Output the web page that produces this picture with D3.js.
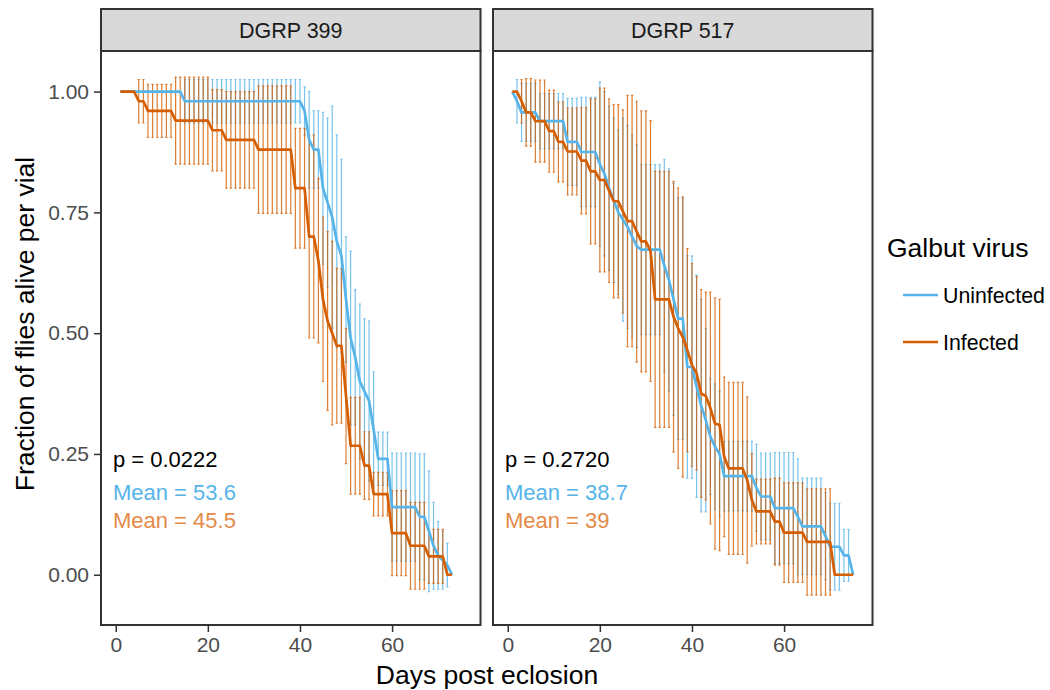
<!DOCTYPE html>
<html><head><meta charset="utf-8">
<script src="https://cdn.jsdelivr.net/npm/d3@7"></script>
<style>
body{margin:0;background:#fff;}
text{font-family:"Liberation Sans",Arial,Helvetica,sans-serif;}
</style>
</head><body>
<svg id="chart" width="1050" height="690"></svg>
<script>
// ---------------- data ----------------
const panelNames = ["DGRP 399", "DGRP 517"];
const groupNames = ["Uninfected", "Infected"];
const groupColors = ["#56B4E9", "#D55E00"];
const meanTextColors = ["#56B4E9", "#E38A4A"];
const xTicks = [0, 20, 40, 60];
const yTicks = [0, 0.25, 0.5, 0.75, 1];
const yTickLabels = ["0.00", "0.25", "0.50", "0.75", "1.00"];

const days399 = [1,2,3,4,5,6,7,8,9,10,11,12,13,14,15,16,17,18,19,20,21,22,23,24,25,26,27,28,29,30,
  31,32,33,34,35,36,37,38,39,40,41,42,43,44,45,46,47,48,49,50,51,52,53,54,55,56,57,58,59,60,
  61,62,63,64,65,66,67,68,69,70,71,72,73];
const days517 = [1,2,3,4,5,6,7,8,9,10,11,12,13,14,15,16,17,18,19,20,21,22,23,24,25,26,27,28,29,30,
  31,32,33,34,35,36,37,38,39,40,41,42,43,44,45,46,47,48,49,50,51,52,53,54,55,56,57,58,59,60,
  61,62,63,64,65,66,67,68,69,70,71,72,73,74,75];

// DGRP 399 – Uninfected
const unf399Mean = [1,1,1,1,1,1,1,1,1,1,1,1,1,1,
  0.98,0.98,0.98,0.98,0.98,0.98,0.98,0.98,0.98,0.98,0.98,0.98,0.98,0.98,0.98,0.98,0.98,0.98,0.98,0.98,0.98,0.98,0.98,0.98,0.98,0.98,
  0.96,0.90,0.88,0.88,0.80,0.77,0.74,0.69,0.66,0.57,0.49,0.45,0.40,0.38,0.36,0.30,0.24,0.24,0.24,
  0.14,0.14,0.14,0.14,0.14,0.14,0.12,0.12,0.09,0.06,0.04,0.03,0.02,0.00];
const unf399Se = [0,0,0,0,0,0,0,0,0,0,0,0,0,0,
  0.045,0.045,0.045,0.045,0.045,0.045,0.045,0.045,0.045,0.045,0.045,0.045,0.045,0.045,0.045,0.045,0.045,0.045,0.045,0.045,0.045,0.045,0.045,0.045,0.045,0.045,
  0.05,0.10,0.08,0.08,0.157,0.175,0.23,0.22,0.20,0.13,0.18,0.14,0.16,0.15,0.165,0.12,0.055,0.055,0.055,
  0.112,0.112,0.112,0.112,0.112,0.112,0.13,0.13,0.125,0.09,0.07,0.06,0.045,0];
// DGRP 399 – Infected
const inf399Mean = [1,1,1,1,0.98,0.98,
  0.96,0.96,0.96,0.96,0.96,0.96,
  0.94,0.94,0.94,0.94,0.94,0.94,0.94,0.94,
  0.92,0.92,0.92,
  0.90,0.90,0.90,0.90,0.90,0.90,0.90,
  0.88,0.88,0.88,0.88,0.88,0.88,0.88,0.88,
  0.80,0.80,0.80,0.70,0.70,0.65,0.57,0.525,0.50,0.474,0.474,0.37,
  0.267,0.267,0.267,0.226,0.226,0.167,0.167,0.167,0.167,
  0.086,0.086,0.086,0.086,0.06,0.06,0.06,0.06,0.038,0.038,0.038,0.038,0,0];
const inf399Se = [0,0,0,0,0.045,0.045,
  0.055,0.055,0.055,0.055,0.055,0.055,
  0.09,0.09,0.09,0.09,0.09,0.09,0.09,0.09,
  0.084,0.084,0.084,
  0.10,0.10,0.10,0.10,0.10,0.10,0.10,
  0.132,0.132,0.132,0.132,0.132,0.132,0.132,0.132,
  0.124,0.124,0.124,0.21,0.21,0.17,0.17,0.185,0.19,0.16,0.16,0.14,
  0.10,0.10,0.10,0.07,0.07,0.045,0.045,0.045,0.045,
  0.088,0.088,0.088,0.088,0.09,0.09,0.09,0.09,0.056,0.056,0.056,0.056,0,0];

// DGRP 517 – Uninfected
const unf517Mean = [1,0.98,0.957,0.957,0.957,0.957,
  0.939,0.939,0.939,0.939,0.939,0.939,0.896,0.896,0.896,0.875,0.875,0.875,0.875,
  0.85,0.83,0.80,0.775,0.75,0.735,0.72,0.70,0.68,
  0.673,0.673,0.673,0.673,0.673,0.64,0.61,0.57,0.53,0.53,0.43,0.43,
  0.39,0.35,0.32,0.286,0.265,0.25,
  0.204,0.204,0.204,0.204,0.204,0.204,0.204,0.18,0.162,0.162,0.162,
  0.138,0.138,0.138,0.138,0.138,0.12,0.10,0.10,0.10,0.10,0.10,0.08,
  0.058,0.058,0.058,0.04,0.04,0];
const unf517Se = [0,0.045,0.06,0.06,0.06,0.06,
  0.057,0.057,0.057,0.057,0.057,0.057,0.09,0.09,0.09,0.113,0.113,0.113,0.113,
  0.17,0.17,0.17,0.17,0.17,0.21,0.21,0.21,0.21,
  0.176,0.176,0.176,0.176,0.176,0.22,0.23,0.24,0.25,0.25,0.23,0.23,
  0.23,0.22,0.19,0.12,0.13,0.13,
  0.072,0.072,0.072,0.072,0.072,0.072,0.072,0.09,0.09,0.09,0.09,
  0.115,0.115,0.115,0.115,0.115,0.12,0.10,0.10,0.10,0.10,0.10,0.09,
  0.09,0.09,0.09,0.054,0.054,0];
// DGRP 517 – Infected
const inf517Mean = [1,1,0.98,0.957,0.957,0.939,0.939,0.939,0.918,0.918,0.896,0.896,
  0.876,0.876,0.876,0.857,0.857,0.835,0.835,0.817,0.817,0.795,0.773,0.773,0.752,
  0.732,0.732,0.71,0.69,0.69,0.67,0.57,0.57,0.57,0.57,0.534,0.51,0.492,0.465,0.434,
  0.417,0.375,0.37,0.345,0.313,0.31,0.244,0.22,0.22,0.22,0.22,0.196,0.155,
  0.131,0.131,0.131,0.131,0.11,0.11,0.087,0.087,0.087,0.087,0.087,
  0.068,0.068,0.068,0.068,0.068,0.068,0,0,0,0,0];
const inf517Se = [0,0,0.045,0.07,0.07,0.085,0.085,0.085,0.085,0.085,0.083,0.083,
  0.09,0.09,0.09,0.11,0.11,0.15,0.15,0.19,0.19,0.19,0.2,0.2,0.21,
  0.26,0.26,0.27,0.27,0.27,0.27,0.265,0.265,0.265,0.265,0.28,0.29,0.29,0.21,0.21,
  0.2,0.215,0.215,0.24,0.26,0.26,0.165,0.178,0.178,0.178,0.178,0.172,0.096,
  0.067,0.067,0.067,0.067,0.09,0.09,0.103,0.103,0.103,0.103,0.103,
  0.11,0.11,0.11,0.11,0.11,0.11,0,0,0,0,0];

const pValues = ["p = 0.0222", "p = 0.2720"];
const meanLabels = [["Mean = 53.6", "Mean = 45.5"], ["Mean = 38.7", "Mean = 39"]];
const labelDay = -0.6;
const labelY = [0.223, 0.155, 0.097];

// ------------- build -------------
const panels = [
  {name: panelNames[0], series: [
    {days: days399, mean: unf399Mean, se: unf399Se},
    {days: days399, mean: inf399Mean, se: inf399Se}]},
  {name: panelNames[1], series: [
    {days: days517, mean: unf517Mean, se: unf517Se},
    {days: days517, mean: inf517Mean, se: inf517Se}]}
];

const svg = d3.select("#chart");
const panelX = [101, 493], panelTop = 51, pw = 379.5, ph = 574;
const stripTop = 9;
const x = d3.scaleLinear().domain([-3.2, 79.2]).range([0, pw]);
const y = d3.scaleLinear().domain([-0.104, 1.084]).range([ph, 0]);
const border = "#333333";

panels.forEach((p, pi) => {
  const g = svg.append("g").attr("transform", `translate(${panelX[pi]},${panelTop})`);
  g.append("rect").attr("width", pw).attr("height", ph).attr("fill", "#fff");

  // error bars
  p.series.forEach((s, si) => {
    const pts = s.days.map((d, i) => ({d, m: s.mean[i], e: s.se[i]})).filter(o => o.e > 0);
    const eb = g.append("g").attr("stroke", groupColors[si]).attr("stroke-opacity", 0.8)
      .attr("stroke-width", 1.2).attr("fill", "none");
    pts.forEach(o => {
      const cx = x(o.d), y1 = y(o.m + o.e), y2 = y(o.m - o.e), w = x(0.25) - x(0);
      eb.append("path").attr("d", `M${cx},${y1}V${y2}M${cx - w},${y1}H${cx + w}M${cx - w},${y2}H${cx + w}`);
    });
  });
  // lines
  p.series.forEach((s, si) => {
    const line = d3.line().x((d, i) => x(s.days[i])).y((d, i) => y(s.mean[i]));
    g.append("path").datum(s.mean).attr("d", line).attr("fill", "none")
      .attr("stroke", groupColors[si]).attr("stroke-width", 2.7).attr("stroke-linejoin", "round");
  });

  // annotations
  g.append("text").attr("x", x(labelDay)).attr("y", y(labelY[0])).attr("font-size", 22)
    .attr("fill", "#000").text(pValues[pi]);
  meanLabels[pi].forEach((t, k) => {
    g.append("text").attr("x", x(labelDay)).attr("y", y(labelY[k + 1])).attr("font-size", 22)
      .attr("fill", meanTextColors[k]).text(t);
  });

  // border
  g.append("rect").attr("width", pw).attr("height", ph).attr("fill", "none")
    .attr("stroke", border).attr("stroke-width", 2);

  // strip
  const sg = svg.append("g").attr("transform", `translate(${panelX[pi]},${stripTop})`);
  sg.append("rect").attr("width", pw).attr("height", panelTop - stripTop).attr("fill", "#d9d9d9")
    .attr("stroke", border).attr("stroke-width", 2);
  sg.append("text").attr("x", pw / 2).attr("y", 29).attr("text-anchor", "middle")
    .attr("font-size", 21.5).attr("fill", "#1a1a1a").text(p.name);

  // x axis
  const xa = svg.append("g").attr("transform", `translate(${panelX[pi]},${panelTop + ph})`)
    .call(d3.axisBottom(x).tickValues(xTicks).tickSize(7).tickPadding(5));
  xa.select(".domain").remove();
  xa.selectAll(".tick line").attr("stroke", border).attr("stroke-width", 1.5);
  xa.selectAll(".tick text").attr("font-size", 21).attr("fill", "#4d4d4d")
    .attr("font-family", '"Liberation Sans",Arial,sans-serif');

  if (pi === 0) {
    const ya = svg.append("g").attr("transform", `translate(${panelX[pi]},${panelTop})`)
      .call(d3.axisLeft(y).tickValues(yTicks).tickFormat((d, i) => yTickLabels[i]).tickSize(7).tickPadding(5));
    ya.select(".domain").remove();
    ya.selectAll(".tick line").attr("stroke", border).attr("stroke-width", 1.5);
    ya.selectAll(".tick text").attr("font-size", 21).attr("fill", "#4d4d4d")
      .attr("font-family", '"Liberation Sans",Arial,sans-serif');
  }
});

// axis titles
svg.append("text").attr("x", 487).attr("y", 684).attr("text-anchor", "middle")
  .attr("font-size", 26.5).attr("fill", "#000").text("Days post eclosion");
svg.append("text").attr("transform", "translate(34,324) rotate(-90)").attr("text-anchor", "middle")
  .attr("font-size", 26.5).attr("fill", "#000").text("Fraction of flies alive per vial");

// legend
const lg = svg.append("g");
lg.append("text").attr("x", 887).attr("y", 257).attr("font-size", 26.5).attr("fill", "#000").text("Galbut virus");
groupNames.forEach((n, i) => {
  const cy = 295 + i * 47;
  lg.append("line").attr("x1", 903).attr("x2", 938).attr("y1", cy).attr("y2", cy)
    .attr("stroke", groupColors[i]).attr("stroke-width", 2.4);
  lg.append("text").attr("x", 943).attr("y", cy + 7.5).attr("font-size", 21.3).attr("fill", "#000").text(n);
});
</script>
</body></html>
